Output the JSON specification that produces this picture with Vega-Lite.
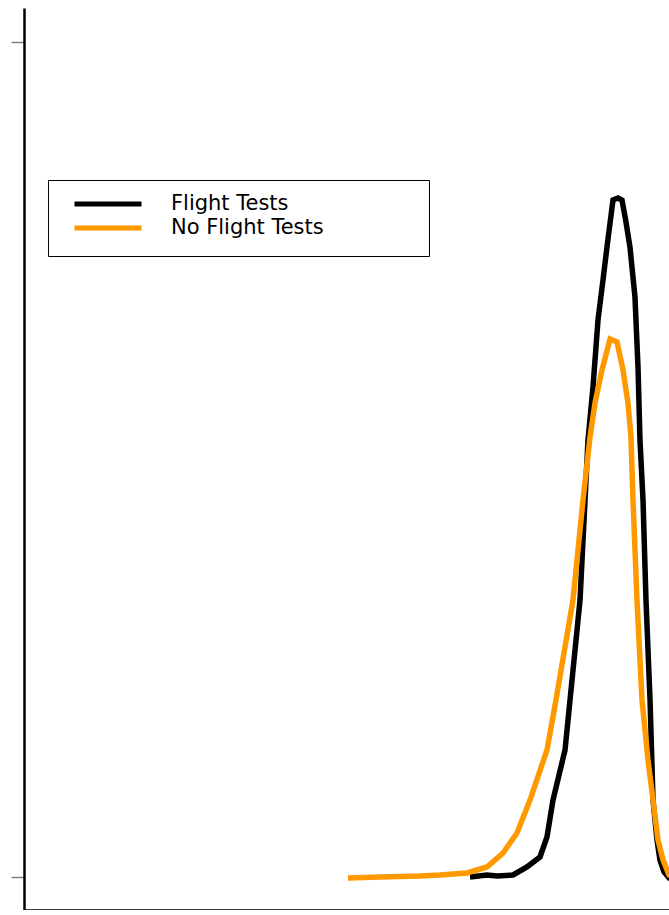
{
  "$schema": "https://vega.github.io/schema/vega-lite/v6.json",
  "width": 696.3,
  "height": 902,
  "autosize": {"type": "none"},
  "padding": {"left": 24, "top": 8, "right": 0, "bottom": 0},
  "background": "white",
  "config": {
    "view": {"stroke": null},
    "axis": {
      "grid": false,
      "labels": false,
      "title": null,
      "domainColor": "black",
      "domainWidth": 2.5,
      "tickColor": "#808080",
      "tickWidth": 1.5
    }
  },
  "data": {
    "values": [
      {"series": "Flight Tests", "x": 0.7046, "y": 0.0},
      {"series": "Flight Tests", "x": 0.7314, "y": 0.0024},
      {"series": "Flight Tests", "x": 0.7472, "y": 0.0012},
      {"series": "Flight Tests", "x": 0.7725, "y": 0.0024},
      {"series": "Flight Tests", "x": 0.7946, "y": 0.012},
      {"series": "Flight Tests", "x": 0.8152, "y": 0.024},
      {"series": "Flight Tests", "x": 0.8262, "y": 0.0479},
      {"series": "Flight Tests", "x": 0.8357, "y": 0.0922},
      {"series": "Flight Tests", "x": 0.8547, "y": 0.1521},
      {"series": "Flight Tests", "x": 0.8626, "y": 0.212},
      {"series": "Flight Tests", "x": 0.8784, "y": 0.3317},
      {"series": "Flight Tests", "x": 0.8863, "y": 0.4515},
      {"series": "Flight Tests", "x": 0.891, "y": 0.5234},
      {"series": "Flight Tests", "x": 0.8989, "y": 0.5868},
      {"series": "Flight Tests", "x": 0.9068, "y": 0.6671},
      {"series": "Flight Tests", "x": 0.9147, "y": 0.715},
      {"series": "Flight Tests", "x": 0.921, "y": 0.7545},
      {"series": "Flight Tests", "x": 0.9305, "y": 0.8108},
      {"series": "Flight Tests", "x": 0.9384, "y": 0.8132},
      {"series": "Flight Tests", "x": 0.9447, "y": 0.8108},
      {"series": "Flight Tests", "x": 0.951, "y": 0.7844},
      {"series": "Flight Tests", "x": 0.9573, "y": 0.7545},
      {"series": "Flight Tests", "x": 0.9652, "y": 0.6946},
      {"series": "Flight Tests", "x": 0.97, "y": 0.6108},
      {"series": "Flight Tests", "x": 0.9731, "y": 0.5234},
      {"series": "Flight Tests", "x": 0.9779, "y": 0.4515},
      {"series": "Flight Tests", "x": 0.9826, "y": 0.3317},
      {"series": "Flight Tests", "x": 0.989, "y": 0.212},
      {"series": "Flight Tests", "x": 0.9937, "y": 0.0922},
      {"series": "Flight Tests", "x": 1.0, "y": 0.0443},
      {"series": "Flight Tests", "x": 1.0047, "y": 0.0204},
      {"series": "Flight Tests", "x": 1.0111, "y": 0.006},
      {"series": "Flight Tests", "x": 1.019, "y": -0.0012},
      {"series": "Flight Tests", "x": 1.0521, "y": 0.0},
      {"series": "Flight Tests", "x": 1.0995, "y": 0.0},
      {"series": "No Flight Tests", "x": 0.5118, "y": -0.0012},
      {"series": "No Flight Tests", "x": 0.5624, "y": 0.0},
      {"series": "No Flight Tests", "x": 0.6256, "y": 0.0012},
      {"series": "No Flight Tests", "x": 0.6572, "y": 0.0024},
      {"series": "No Flight Tests", "x": 0.6998, "y": 0.0048},
      {"series": "No Flight Tests", "x": 0.7314, "y": 0.012},
      {"series": "No Flight Tests", "x": 0.7567, "y": 0.0287},
      {"series": "No Flight Tests", "x": 0.7788, "y": 0.0527},
      {"series": "No Flight Tests", "x": 0.7994, "y": 0.0922},
      {"series": "No Flight Tests", "x": 0.8262, "y": 0.1521},
      {"series": "No Flight Tests", "x": 0.8404, "y": 0.212},
      {"series": "No Flight Tests", "x": 0.8673, "y": 0.3317},
      {"series": "No Flight Tests", "x": 0.8831, "y": 0.4515},
      {"series": "No Flight Tests", "x": 0.8942, "y": 0.5269},
      {"series": "No Flight Tests", "x": 0.9021, "y": 0.5677},
      {"series": "No Flight Tests", "x": 0.9131, "y": 0.6072},
      {"series": "No Flight Tests", "x": 0.9258, "y": 0.6443},
      {"series": "No Flight Tests", "x": 0.9368, "y": 0.6407},
      {"series": "No Flight Tests", "x": 0.9463, "y": 0.6072},
      {"series": "No Flight Tests", "x": 0.9542, "y": 0.5677},
      {"series": "No Flight Tests", "x": 0.9589, "y": 0.5269},
      {"series": "No Flight Tests", "x": 0.9621, "y": 0.4515},
      {"series": "No Flight Tests", "x": 0.9684, "y": 0.3317},
      {"series": "No Flight Tests", "x": 0.9763, "y": 0.212},
      {"series": "No Flight Tests", "x": 0.9858, "y": 0.1401},
      {"series": "No Flight Tests", "x": 0.9937, "y": 0.0922},
      {"series": "No Flight Tests", "x": 1.0016, "y": 0.0443},
      {"series": "No Flight Tests", "x": 1.0095, "y": 0.0204},
      {"series": "No Flight Tests", "x": 1.0158, "y": 0.0084},
      {"series": "No Flight Tests", "x": 1.019, "y": 0.0024},
      {"series": "No Flight Tests", "x": 1.0521, "y": 0.0},
      {"series": "No Flight Tests", "x": 1.0995, "y": 0.0}
    ]
  },
  "mark": {"type": "line", "strokeWidth": 5.5, "clip": true},
  "encoding": {
    "x": {
      "field": "x",
      "type": "quantitative",
      "scale": {"domain": [0, 1.1], "nice": false, "zero": false},
      "axis": {"values": [1], "tickSize": 10}
    },
    "y": {
      "field": "y",
      "type": "quantitative",
      "scale": {"domain": [-0.0395, 1.0407], "nice": false, "zero": false},
      "axis": {"values": [0, 1], "tickSize": 13}
    },
    "color": {
      "field": "series",
      "type": "nominal",
      "scale": {"domain": ["Flight Tests", "No Flight Tests"], "range": ["black", "#ff9900"]},
      "legend": {
        "title": null,
        "orient": "none",
        "legendX": 24,
        "legendY": 172,
        "strokeColor": "black",
        "fillColor": "white",
        "padding": 10,
        "symbolType": "M-3,0H3M26.9,0",
        "symbolSize": 499,
        "symbolStrokeWidth": 5,
        "symbolOffset": 36,
        "labelFont": "DejaVu Sans",
        "labelFontSize": 21,
        "labelColor": "black",
        "labelOffset": 49,
        "rowPadding": 0,
        "encode": {
          "symbols": {
            "update": {
              "shape": {"signal": "datum.value === 'No Flight Tests' ? 'M-3,0H3M26.9,0.68' : 'M-3,0H3M26.9,0'"}
            }
          }
        }
      }
    }
  }
}
